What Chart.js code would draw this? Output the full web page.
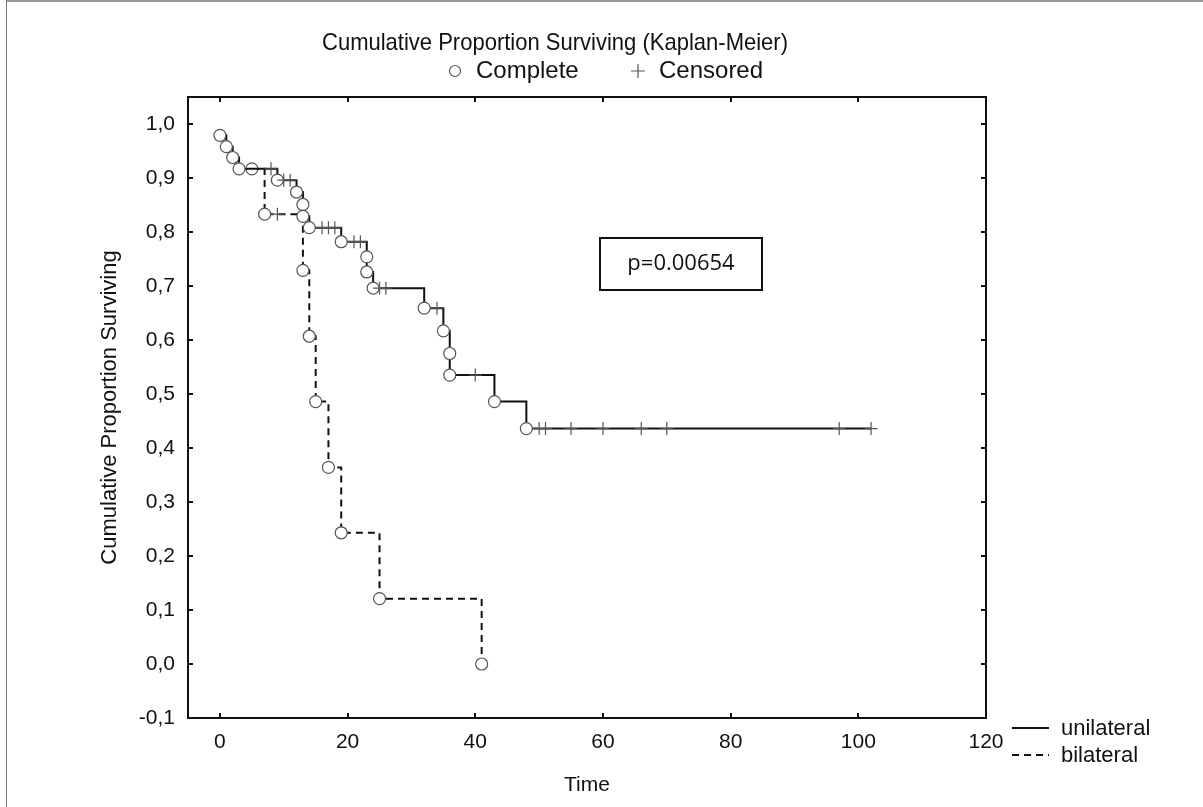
<!DOCTYPE html>
<html><head><meta charset="utf-8">
<script src="https://cdn.jsdelivr.net/npm/chart.js@4.4.1/dist/chart.umd.min.js"></script>
<style>
html,body{margin:0;padding:0;background:#fff;}
#wrap{position:relative;width:1203px;height:807px;overflow:hidden;}
#edge{position:absolute;left:6px;top:0;right:0;bottom:0;border-top:2px solid #9a9a9a;border-left:1px solid #777;pointer-events:none;}
</style></head><body>
<div id="wrap"><canvas id="c" width="1203" height="807"></canvas><div id="edge"></div></div>
<script>
const chartTitle = 'Cumulative Proportion Surviving (Kaplan-Meier)';
const xAxisTitle = 'Time';
const yAxisTitle = 'Cumulative Proportion Surviving';
const seriesNames = ['unilateral', 'bilateral'];
const markerNames = ['Complete', 'Censored'];
const pValueText = 'p=0.00654';
const xTicks = [0, 20, 40, 60, 80, 100, 120];
const yTicks = [-0.1, 0.0, 0.1, 0.2, 0.3, 0.4, 0.5, 0.6, 0.7, 0.8, 0.9, 1.0];

// status: 1 = complete (event, circle), 0 = censored (cross)
const uniTime   = [0, 1, 2, 3, 8, 9, 10, 11, 12, 13, 13, 14, 16, 17, 18, 19, 21, 22, 23, 23, 24, 25, 26, 32, 34, 35, 36, 36, 40, 43, 48, 50, 51, 55, 60, 66, 70, 97, 102];
const uniSurv   = [0.979, 0.958, 0.938, 0.917, 0.917, 0.896, 0.896, 0.896, 0.874, 0.851, 0.829, 0.808, 0.808, 0.808, 0.808, 0.782, 0.782, 0.782, 0.754, 0.726, 0.696, 0.696, 0.696, 0.659, 0.659, 0.617, 0.575, 0.535, 0.535, 0.486, 0.436, 0.436, 0.436, 0.436, 0.436, 0.436, 0.436, 0.436, 0.436];
const uniStatus = [1, 1, 1, 1, 0, 1, 0, 0, 1, 1, 1, 1, 0, 0, 0, 1, 0, 0, 1, 1, 1, 0, 0, 1, 0, 1, 1, 1, 0, 1, 1, 0, 0, 0, 0, 0, 0, 0, 0];

const bilTime   = [5, 7, 9, 13, 14, 15, 17, 19, 25, 41];
const bilSurv   = [0.917, 0.833, 0.833, 0.729, 0.607, 0.486, 0.364, 0.243, 0.121, 0.0];
const bilStatus = [1, 1, 0, 1, 1, 1, 1, 1, 1, 1];

const FONT = "'Liberation Sans', Arial, sans-serif";
const INK = '#111';
const MARK = '#555';

function makeSet(label, times, surv, status, dash) {
  return {
    label: label,
    data: times.map((t, i) => ({x: t, y: surv[i]})),
    stepped: 'before',
    borderColor: INK,
    borderWidth: 2,
    borderDash: dash,
    fill: false,
    pointStyle: status.map(s => s ? 'circle' : 'cross'),
    pointRadius: status.map(s => s ? 6 : 6.5),
    pointBackgroundColor: '#fff',
    pointBorderColor: MARK,
    pointBorderWidth: 1.2
  };
}

const framePlugin = {
  id: 'frame',
  afterDraw(chart) {
    const {ctx, chartArea: a, scales: {x, y}} = chart;
    ctx.save();
    ctx.strokeStyle = INK;
    ctx.lineWidth = 2;
    ctx.strokeRect(a.left, a.top, a.right - a.left, a.bottom - a.top);
    const L = 5;
    ctx.beginPath();
    xTicks.forEach(v => {
      const px = Math.round(x.getPixelForValue(v));
      ctx.moveTo(px, a.bottom); ctx.lineTo(px, a.bottom - L);
      ctx.moveTo(px, a.top); ctx.lineTo(px, a.top + L);
    });
    yTicks.forEach(v => {
      const py = Math.round(y.getPixelForValue(v));
      ctx.moveTo(a.left, py); ctx.lineTo(a.left + L, py);
      ctx.moveTo(a.right, py); ctx.lineTo(a.right - L, py);
    });
    ctx.stroke();

    // title (condensed face, as in the reference)
    ctx.fillStyle = INK;
    ctx.textBaseline = 'middle';
    ctx.textAlign = 'center';
    ctx.font = '24px ' + FONT;
    const tw = ctx.measureText(chartTitle).width;
    const sx = Math.min(1, 466 / tw);
    ctx.save();
    ctx.translate(555, 43);
    ctx.scale(sx, 1);
    ctx.fillText(chartTitle, 0, 0);
    ctx.restore();

    // marker legend
    ctx.font = '24px ' + FONT;
    ctx.textAlign = 'left';
    ctx.strokeStyle = MARK; ctx.lineWidth = 1.2;
    ctx.beginPath(); ctx.arc(455, 71, 5.5, 0, Math.PI * 2); ctx.stroke();
    ctx.fillText(markerNames[0], 476, 71);
    ctx.beginPath();
    ctx.moveTo(638, 64); ctx.lineTo(638, 78);
    ctx.moveTo(631, 71); ctx.lineTo(645, 71);
    ctx.stroke();
    ctx.fillText(markerNames[1], 659, 71);

    // series legend
    ctx.font = '22px ' + FONT;
    ctx.strokeStyle = INK; ctx.lineWidth = 2;
    ctx.beginPath(); ctx.moveTo(1012, 728); ctx.lineTo(1049, 728); ctx.stroke();
    ctx.fillText(seriesNames[0], 1061, 729);
    ctx.setLineDash([7, 5]);
    ctx.beginPath(); ctx.moveTo(1012, 755); ctx.lineTo(1049, 755); ctx.stroke();
    ctx.setLineDash([]);
    ctx.fillText(seriesNames[1], 1061, 756);

    // p-value box
    ctx.lineWidth = 2;
    ctx.strokeStyle = INK;
    ctx.strokeRect(600, 238, 162, 52);
    ctx.textAlign = 'center';
    ctx.font = "22px 'Open Sans', 'Liberation Sans', sans-serif";
    ctx.fillText(pValueText, 681, 264);
    ctx.restore();
  }
};

new Chart(document.getElementById('c'), {
  type: 'line',
  data: {
    datasets: [
      makeSet(seriesNames[0], uniTime, uniSurv, uniStatus, []),
      makeSet(seriesNames[1], bilTime, bilSurv, bilStatus, [7, 5])
    ]
  },
  options: {
    responsive: false,
    animation: false,
    events: [],
    layout: {padding: {left: 0, top: 97, right: 217, bottom: 0}},
    plugins: {legend: {display: false}, title: {display: false}, tooltip: {enabled: false}},
    scales: {
      x: {
        type: 'linear', min: -5, max: 120,
        afterBuildTicks: s => { s.ticks = xTicks.map(v => ({value: v})); },
        grid: {display: false, drawTicks: false},
        border: {display: false},
        ticks: {padding: 12, color: INK, font: {family: FONT, size: 21}, maxRotation: 0, autoSkip: false, callback: v => String(v)},
        title: {display: true, text: xAxisTitle, color: INK, font: {family: FONT, size: 21}, padding: {top: 0, bottom: 9}},
        afterFit: s => { s.height = 89; }
      },
      y: {
        type: 'linear', min: -0.1, max: 1.05,
        afterBuildTicks: s => { s.ticks = yTicks.map(v => ({value: v})); },
        grid: {display: false, drawTicks: false},
        border: {display: false},
        ticks: {padding: 13, color: INK, font: {family: FONT, size: 21}, autoSkip: false, callback: v => v.toFixed(1).replace('.', ',')},
        title: {display: true, text: yAxisTitle, color: INK, font: {family: FONT, size: 22}, padding: {top: 97, bottom: 0}},
        afterFit: s => { s.width = 188; }
      }
    }
  },
  plugins: [framePlugin]
});
</script>
</body></html>
